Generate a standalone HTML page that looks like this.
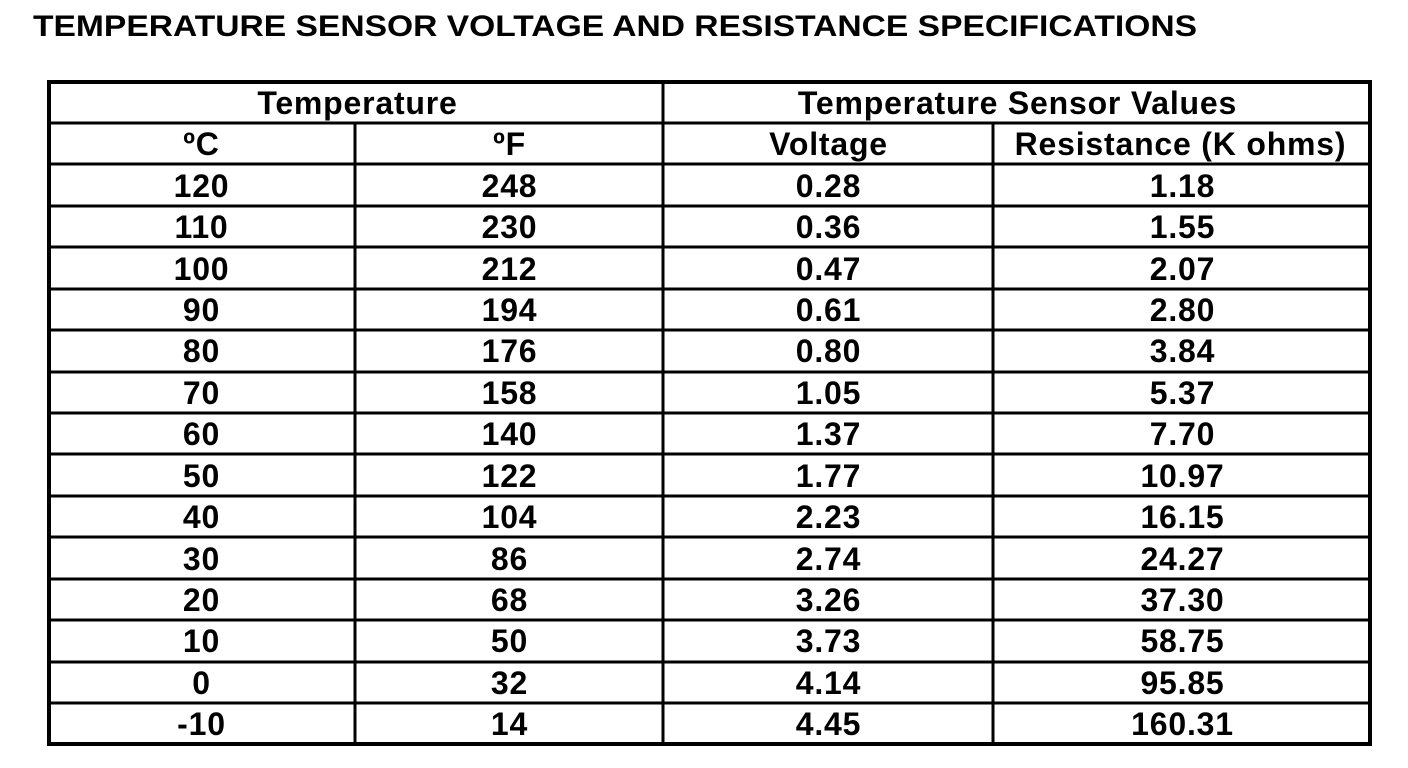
<!DOCTYPE html>
<html><head><style>body{margin:0;background:#fff}svg{display:block}</style></head><body>
<svg width="1408" height="768" xmlns="http://www.w3.org/2000/svg" font-family="Liberation Sans, Arial, sans-serif" font-weight="bold">
<text x="33" y="36" font-size="30" textLength="1164" lengthAdjust="spacingAndGlyphs">TEMPERATURE SENSOR VOLTAGE AND RESISTANCE SPECIFICATIONS</text>
<g stroke="#000" fill="none">
<rect x="49" y="82" width="1321" height="662" stroke-width="4"/>
<g stroke-width="3">
<line x1="663" y1="82" x2="663" y2="744"/>
<line x1="355" y1="123" x2="355" y2="744"/>
<line x1="993" y1="123" x2="993" y2="744"/>
<line x1="49" y1="123" x2="1370" y2="123"/>
<line x1="49" y1="164" x2="1370" y2="164"/>
<line x1="49" y1="206" x2="1370" y2="206"/>
<line x1="49" y1="247" x2="1370" y2="247"/>
<line x1="49" y1="289" x2="1370" y2="289"/>
<line x1="49" y1="330" x2="1370" y2="330"/>
<line x1="49" y1="372" x2="1370" y2="372"/>
<line x1="49" y1="413" x2="1370" y2="413"/>
<line x1="49" y1="454" x2="1370" y2="454"/>
<line x1="49" y1="496" x2="1370" y2="496"/>
<line x1="49" y1="537" x2="1370" y2="537"/>
<line x1="49" y1="579" x2="1370" y2="579"/>
<line x1="49" y1="620" x2="1370" y2="620"/>
<line x1="49" y1="662" x2="1370" y2="662"/>
<line x1="49" y1="703" x2="1370" y2="703"/>
</g></g>
<g font-size="32" text-anchor="middle" fill="#000" letter-spacing="0.8" transform="translate(0.5,0)">
<text x="357" y="114">Temperature</text>
<text x="1017" y="114">Temperature Sensor Values</text>
<text x="201" y="155">ºC</text><text x="509" y="155">ºF</text><text x="828" y="155">Voltage</text><text x="1180" y="155">Resistance (K ohms)</text>
<text x="201" y="197">120</text><text x="201" y="238">110</text><text x="201" y="280">100</text><text x="201" y="321">90</text><text x="201" y="362">80</text><text x="201" y="404">70</text><text x="201" y="445">60</text><text x="201" y="487">50</text><text x="201" y="528">40</text><text x="201" y="570">30</text><text x="201" y="611">20</text><text x="201" y="652">10</text><text x="201" y="694">0</text><text x="201" y="735">-10</text>
<text x="509" y="197">248</text><text x="509" y="238">230</text><text x="509" y="280">212</text><text x="509" y="321">194</text><text x="509" y="362">176</text><text x="509" y="404">158</text><text x="509" y="445">140</text><text x="509" y="487">122</text><text x="509" y="528">104</text><text x="509" y="570">86</text><text x="509" y="611">68</text><text x="509" y="652">50</text><text x="509" y="694">32</text><text x="509" y="735">14</text>
<text x="828" y="197">0.28</text><text x="828" y="238">0.36</text><text x="828" y="280">0.47</text><text x="828" y="321">0.61</text><text x="828" y="362">0.80</text><text x="828" y="404">1.05</text><text x="828" y="445">1.37</text><text x="828" y="487">1.77</text><text x="828" y="528">2.23</text><text x="828" y="570">2.74</text><text x="828" y="611">3.26</text><text x="828" y="652">3.73</text><text x="828" y="694">4.14</text><text x="828" y="735">4.45</text>
<text x="1182" y="197">1.18</text><text x="1182" y="238">1.55</text><text x="1182" y="280">2.07</text><text x="1182" y="321">2.80</text><text x="1182" y="362">3.84</text><text x="1182" y="404">5.37</text><text x="1182" y="445">7.70</text><text x="1182" y="487">10.97</text><text x="1182" y="528">16.15</text><text x="1182" y="570">24.27</text><text x="1182" y="611">37.30</text><text x="1182" y="652">58.75</text><text x="1182" y="694">95.85</text><text x="1182" y="735">160.31</text>
</g>
</svg>
</body></html>
